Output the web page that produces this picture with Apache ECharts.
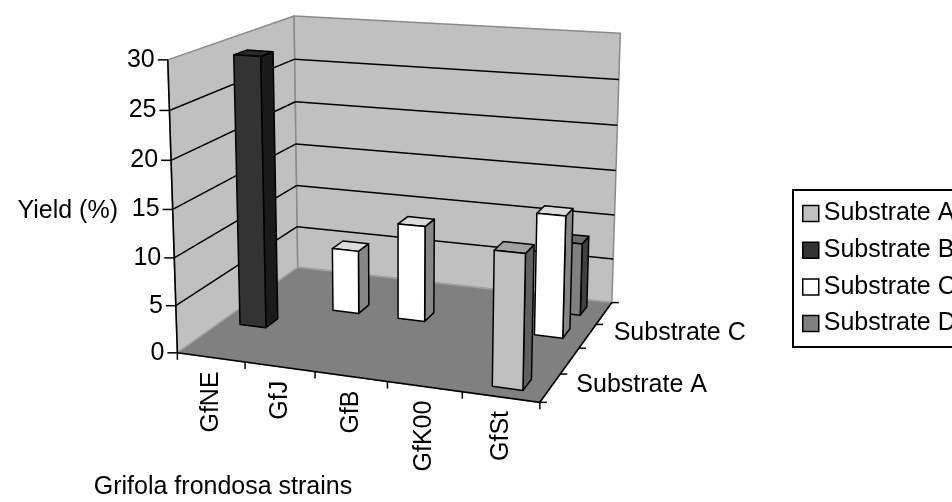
<!DOCTYPE html>
<html>
<head>
<meta charset="utf-8">
<script src="https://cdn.jsdelivr.net/npm/echarts@6/dist/echarts.min.js"></script>
<style>
  html, body { margin: 0; padding: 0; background: #ffffff; }
  #chart { width: 952px; height: 502px; }
</style>
</head>
<body>
<div id="chart"></div>
<script>
// ---- data ----
const categories = ['GfNE', 'GfJ', 'GfB', 'GfK00', 'GfSt'];
const substrates = ['Substrate A', 'Substrate B', 'Substrate C', 'Substrate D'];
// Yield (%) per strain; null = no bar
const substrateA = [null, null, null, null, 13.5];
const substrateB = [29, null, null, null, null];
const substrateC = [null, 7, 10.5, null, 13.1];
const substrateD = [null, null, null, null, 8];
const valueTicks = [0, 5, 10, 15, 20, 25, 30];
const depthLabelShown = [true, false, true, false];

// ---- styling ----
const FONT = "'Liberation Sans', Arial, sans-serif";
const FS = 25;
const barStyles = [
  { front: '#c0c0c0', top: '#a2a2a2', side: '#606060' },
  { front: '#333333', top: '#2a2a2a', side: '#1a1a1a' },
  { front: '#ffffff', top: '#dcdcdc', side: '#868686' },
  { front: '#808080', top: '#6c6c6c', side: '#404040' }
];

// ---- perspective camera for the 3D box ----
// unit box: X along strains, Y along value, Z along depth (front = 0)
const camAnchors = [
  [0, 0, 0, 178, 353], [0, 1, 0, 167, 60], [0, 0, 1, 297, 267], [0, 1, 1, 295, 16],
  [1, 0, 1, 612, 303], [1, 1, 1, 620, 33], [1, 0, 0, 540, 402]
];
const SC = 500;
function fitCamera(pts) {
  const rows = [], rhs = [];
  pts.forEach(function (p) {
    const X = p[0], Y = p[1], Z = p[2], x = p[3] / SC, y = p[4] / SC;
    rows.push([X, Y, Z, 1, 0, 0, 0, 0, -x * X, -x * Y, -x * Z]); rhs.push(x);
    rows.push([0, 0, 0, 0, X, Y, Z, 1, -y * X, -y * Y, -y * Z]); rhs.push(y);
  });
  const n = 11, M = [];
  for (let i = 0; i < n; i++) {
    M.push([]);
    for (let j = 0; j < n; j++) {
      let s = 0;
      for (let k = 0; k < rows.length; k++) s += rows[k][i] * rows[k][j];
      M[i].push(s);
    }
    let b = 0;
    for (let k = 0; k < rows.length; k++) b += rows[k][i] * rhs[k];
    M[i].push(b);
  }
  for (let c = 0; c < n; c++) {
    let piv = c;
    for (let r = c + 1; r < n; r++) if (Math.abs(M[r][c]) > Math.abs(M[piv][c])) piv = r;
    const tmp = M[c]; M[c] = M[piv]; M[piv] = tmp;
    for (let r = 0; r < n; r++) {
      if (r === c) continue;
      const f = M[r][c] / M[c][c];
      for (let k = c; k <= n; k++) M[r][k] -= f * M[c][k];
    }
  }
  return M.map(function (row, i) { return row[n] / row[i]; });
}
const cam = fitCamera(camAnchors);
function P(X, Y, Z) {
  const w = cam[8] * X + cam[9] * Y + cam[10] * Z + 1;
  return [
    SC * (cam[0] * X + cam[1] * Y + cam[2] * Z + cam[3]) / w,
    SC * (cam[4] * X + cam[5] * Y + cam[6] * Z + cam[7]) / w
  ];
}

// helpers that read positions from the (hidden) cartesian axes
function heightOf(api, cs, v) { return (cs.y + cs.height - api.coord([0, v])[1]) / cs.height; }
function poly(pts, fill, stroke, lw) {
  return { type: 'polygon', shape: { points: pts },
    style: { fill: fill, stroke: stroke || null, lineWidth: lw || 0, lineJoin: 'round' } };
}
function seg(a, b, color, lw) {
  return { type: 'line', shape: { x1: a[0], y1: a[1], x2: b[0], y2: b[1] },
    style: { stroke: color, lineWidth: lw } };
}
function label(x, y, text, align, extra) {
  const el = { type: 'text', x: x, y: y,
    style: { text: text, fontFamily: FONT, fontSize: FS, fill: '#000',
      align: align, verticalAlign: 'middle' } };
  return Object.assign(el, extra || {});
}

function renderFrame(params, api) {
  const cs = params.coordSys;
  const ch = [];
  // walls and floor
  ch.push(poly([P(0, 0, 0), P(0, 1, 0), P(0, 1, 1), P(0, 0, 1)], '#c0c0c0', '#8a8a8a', 1.5));
  ch.push(poly([P(0, 0, 1), P(0, 1, 1), P(1, 1, 1), P(1, 0, 1)], '#c0c0c0', '#8a8a8a', 1.5));
  ch.push(poly([P(0, 0, 0), P(1, 0, 0), P(1, 0, 1), P(0, 0, 1)], '#808080', '#a4a4a4', 1.2));
  // gridlines on both walls
  valueTicks.forEach(function (t) {
    if (t === valueTicks[0] || t === valueTicks[valueTicks.length - 1]) return;
    const h = heightOf(api, cs, t);
    ch.push(seg(P(0, h, 0), P(0, h, 1), '#000', 1.5));
    ch.push(seg(P(0, h, 1), P(1, h, 1), '#000', 1.5));
  });
  // value axis
  ch.push(seg(P(0, 0, 0), P(0, 1, 0), '#000', 1.6));
  valueTicks.forEach(function (t) {
    const a = P(0, heightOf(api, cs, t), 0);
    ch.push(seg([a[0] - 10, a[1]], a, '#000', 1.5));
    ch.push(label(a[0] - 13, a[1], String(t), 'right'));
  });
  // strain axis
  ch.push(seg(P(0, 0, 0), P(1, 0, 0), '#000', 1.6));
  const n = categories.length;
  for (let k = 0; k <= n; k++) {
    const a = P(k / n, 0, 0);
    ch.push(seg(a, [a[0], a[1] + 7], '#000', 1.5));
  }
  categories.forEach(function (c, i) {
    const u = (api.coord([i, 0])[0] - cs.x) / cs.width;
    const a = P(u, 0, 0);
    ch.push(label(a[0], a[1] + 14, c, 'right', { rotation: Math.PI / 2 }));
  });
  // substrate (depth) axis
  ch.push(seg(P(1, 0, 0), P(1, 0, 1), '#000', 1.6));
  const m = substrates.length;
  for (let k = 0; k <= m; k++) {
    const a = P(1, 0, k / m);
    ch.push(seg(a, [a[0] + 7, a[1]], '#000', 1.5));
  }
  substrates.forEach(function (s, r) {
    if (!depthLabelShown[r]) return;
    const a = P(1, 0, (r + 0.5) / m);
    ch.push(label(a[0] + 26, a[1] - 3, s, 'left'));
  });
  // axis titles
  ch.push(label(118, 211, 'Yield (%)', 'right'));
  ch.push(label(223, 487, 'Grifola frondosa strains', 'center'));
  return { type: 'group', children: ch };
}

function makeBarRenderer(row) {
  const st = barStyles[row];
  return function (params, api) {
    const cs = params.coordSys;
    const idx = api.value(0), val = api.value(1);
    const c = api.coord([idx, val]);
    const band = api.size([1, 0])[0] / cs.width;
    const uc = (c[0] - cs.x) / cs.width;
    const h = (cs.y + cs.height - c[1]) / cs.height;
    const u0 = uc - band * 0.2, u1 = uc + band * 0.2;
    const rowW = 1 / substrates.length;
    const d0 = row * rowW + rowW * 0.3, d1 = row * rowW + rowW * 0.7;
    const side = poly([P(u1, 0, d0), P(u1, 0, d1), P(u1, h, d1), P(u1, h, d0)], st.side, '#000', 1.5);
    const top = poly([P(u0, h, d0), P(u1, h, d0), P(u1, h, d1), P(u0, h, d1)], st.top, '#000', 1.5);
    const front = poly([P(u0, 0, d0), P(u1, 0, d0), P(u1, h, d0), P(u0, h, d0)], st.front, '#000', 1.5);
    return { type: 'group', children: [side, top, front] };
  };
}

const seriesValues = [substrateA, substrateB, substrateC, substrateD];
function toData(vals) {
  return vals.map(function (v, i) { return [i, v]; }).filter(function (d) { return d[1] != null; });
}

// back rows first so nearer bars overlap farther ones
const barSeries = [];
for (let r = substrates.length - 1; r >= 0; r--) {
  barSeries.push({
    type: 'custom', name: substrates[r], coordinateSystem: 'cartesian2d',
    renderItem: makeBarRenderer(r), data: toData(seriesValues[r]),
    encode: { x: 0, y: 1 }, clip: false, z: 3,
    itemStyle: { color: barStyles[r].front, borderColor: '#000' }, silent: true
  });
}

const chart = echarts.init(document.getElementById('chart'), null, { renderer: 'canvas' });
chart.setOption({
  animation: false,
  backgroundColor: '#ffffff',
  grid: { left: 0, top: 0, width: 100, height: 100, show: false },
  xAxis: { type: 'category', data: categories, show: false },
  yAxis: { type: 'value', min: 0, max: 30, interval: 5, show: false },
  legend: {
    data: substrates, orient: 'vertical', left: 793, top: 190,
    padding: [11, 40, 11, 9], itemWidth: 16, itemHeight: 16, itemGap: 11.7,
    icon: 'rect', borderColor: '#000', borderWidth: 2, selectedMode: false,
    itemStyle: { borderColor: '#000', borderWidth: 1.5 },
    textStyle: { fontFamily: FONT, fontSize: FS, color: '#000', lineHeight: 24 }
  },
  series: [{
    type: 'custom', name: 'frame', coordinateSystem: 'cartesian2d',
    renderItem: renderFrame, data: [[0, 0]], encode: { x: 0, y: 1 },
    clip: false, z: 1, silent: true
  }].concat(barSeries)
});
</script>
</body>
</html>
